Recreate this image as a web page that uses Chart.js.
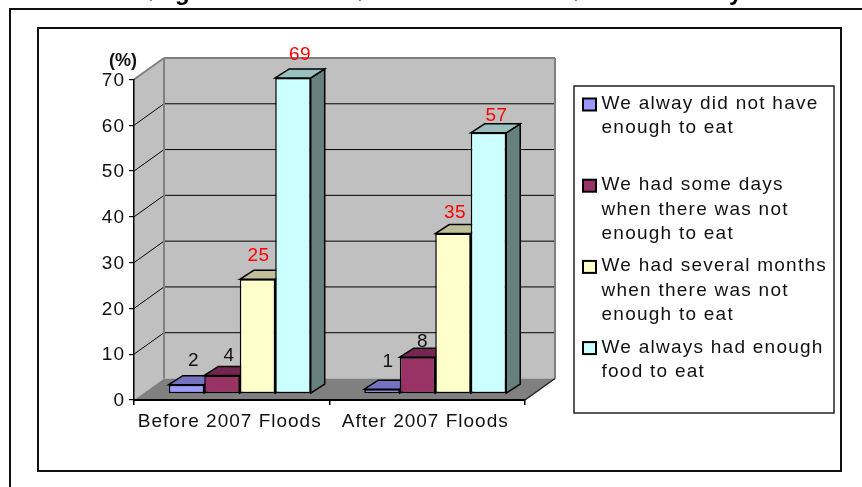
<!DOCTYPE html>
<html>
<head>
<meta charset="utf-8">
<style>
  html, body { margin: 0; padding: 0; background: #fff; }
  canvas { display: block; }
</style>
<script src="https://cdn.jsdelivr.net/npm/chart.js@4/dist/chart.umd.min.js"></script>
</head>
<body>
<canvas id="chart" width="862" height="487"></canvas>
<script>
// Food sufficiency before and after the 2007 floods, share of households (%)
const categories = ['Before 2007 Floods', 'After 2007 Floods'];
const alwaysShort = [2, 1];
const someDays = [4, 8];
const severalMonths = [25, 35];
const alwaysEnough = [69, 57];
const yTicks = [0, 10, 20, 30, 40, 50, 60, 70];

const seriesNames = [
  ['We alway did not have', 'enough to eat'],
  ['We had some days', 'when there was not', 'enough to eat'],
  ['We had several months', 'when there was not', 'enough to eat'],
  ['We always had enough', 'food to eat']
];
const seriesColors = ['#9999FF', '#993366', '#FFFFCC', '#CCFFFF'];
const topColors = ['#7373BF', '#732650', '#BFBF99', '#99BFBF'];
const sideColors = ['#4C4C80', '#4C1933', '#808066', '#668080'];
const labelColors = [['#111', '#111'], ['#111', '#111'], ['#FF0000', '#FF0000'], ['#FF0000', '#FF0000']];
// Hand placement of each value label relative to the bar's rear top corner
const labelNudge = [
  [[7, -15], [6, -18]],
  [[7, -11], [5, -6]],
  [[1, -15], [2, -12]],
  [[7, -14], [8, -8]]
];

// Oblique projection used for the fake 3D box
const WALL_DX = 30, WALL_DY = -21.5;
const BAR_DX = 8, BAR_DY = -6.2;
const DEPTH_DX = 14, DEPTH_DY = -9;

const FONT = '"Liberation Sans", Arial, sans-serif';
const TEXT_SIZE = 19;

function poly(ctx, pts, fill, stroke, lw) {
  ctx.beginPath();
  pts.forEach((p, i) => i ? ctx.lineTo(p[0], p[1]) : ctx.moveTo(p[0], p[1]));
  ctx.closePath();
  if (fill) { ctx.fillStyle = fill; ctx.fill(); }
  if (stroke) { ctx.strokeStyle = stroke; ctx.lineWidth = lw; ctx.stroke(); }
}

function line(ctx, x1, y1, x2, y2, color, lw) {
  ctx.beginPath();
  ctx.moveTo(x1, y1);
  ctx.lineTo(x2, y2);
  ctx.strokeStyle = color;
  ctx.lineWidth = lw;
  ctx.stroke();
}

function drawFrames(ctx) {
  ctx.strokeStyle = '#111';
  ctx.lineWidth = 2;
  ctx.strokeRect(10, 9, 900, 600);
  ctx.strokeRect(38, 28, 803, 443);
}

// Bits of the page heading that hang down over the top edge
const headingScraps = [[148, ','], [175, 'g'], [357, ','], [573, ','], [729, 'y']];
function drawHeading(ctx) {
  ctx.save();
  ctx.font = 'bold 24px ' + FONT;
  ctx.fillStyle = '#000';
  ctx.textAlign = 'left';
  ctx.textBaseline = 'alphabetic';
  headingScraps.forEach(([x, s]) => ctx.fillText(s, x, s === ',' ? -3 : 0));
  ctx.restore();
}

function drawBox(chart) {
  const { ctx, scales: { x, y } } = chart;
  const left = x.left, right = x.right;
  const base = y.getPixelForValue(0), top = y.getPixelForValue(70);
  // side wall, back wall, floor
  poly(ctx, [[left, base], [left + WALL_DX, base + WALL_DY], [left + WALL_DX, top + WALL_DY], [left, top]], '#C0C0C0');
  poly(ctx, [[left + WALL_DX, base + WALL_DY], [right + WALL_DX, base + WALL_DY], [right + WALL_DX, top + WALL_DY], [left + WALL_DX, top + WALL_DY]], '#C0C0C0');
  yTicks.forEach(v => {
    if (v === 0 || v === 70) return;
    const py = y.getPixelForValue(v);
    line(ctx, left, py, left + WALL_DX, py + WALL_DY, '#000', 1);
    line(ctx, left + WALL_DX, py + WALL_DY, right + WALL_DX, py + WALL_DY, '#000', 1);
  });
  poly(ctx, [[left, base], [left + WALL_DX, base + WALL_DY], [right + WALL_DX, base + WALL_DY], [right, base]], '#808080');
  line(ctx, left + WALL_DX, top + WALL_DY, right + WALL_DX, top + WALL_DY, '#808080', 2);
  line(ctx, left + WALL_DX, top + WALL_DY, left + WALL_DX, base + WALL_DY, '#808080', 2);
  line(ctx, right + WALL_DX, top + WALL_DY, right + WALL_DX, base + WALL_DY, '#808080', 2);
  line(ctx, left, top, left + WALL_DX, top + WALL_DY, '#808080', 2);
  line(ctx, right, base, right + WALL_DX, base + WALL_DY, '#222', 1.5);
}

function drawLegend(ctx) {
  ctx.save();
  ctx.fillStyle = '#fff';
  ctx.fillRect(574, 86, 260, 327);
  ctx.strokeStyle = '#222';
  ctx.lineWidth = 1.5;
  ctx.strokeRect(574, 86, 260, 327);
  ctx.font = TEXT_SIZE + 'px ' + FONT;
  ctx.letterSpacing = '1.25px';
  ctx.textAlign = 'left';
  ctx.textBaseline = 'alphabetic';
  seriesNames.forEach((lines, i) => {
    const baseline = 109 + i * 81.2;
    ctx.fillStyle = seriesColors[i];
    ctx.strokeStyle = '#000';
    ctx.lineWidth = 2;
    ctx.fillRect(583, baseline - 10.5, 13, 12);
    ctx.strokeRect(583, baseline - 10.5, 13, 12);
    ctx.fillStyle = '#111';
    lines.forEach((t, j) => ctx.fillText(t, 601.5, baseline + j * 24.4));
  });
  ctx.restore();
}

const boxPlugin = {
  id: 'box3d',
  beforeDraw(chart) {
    const ctx = chart.ctx;
    ctx.letterSpacing = '1px';
    drawFrames(ctx);
    drawHeading(ctx);
    drawBox(chart);
    drawLegend(ctx);
    ctx.save();
    ctx.font = 'bold 18px ' + FONT;
    ctx.letterSpacing = '0px';
    ctx.fillStyle = '#111';
    ctx.textAlign = 'left';
    ctx.fillText('(%)', 109, 66);
    ctx.restore();
  },
  beforeDatasetsDraw(chart) {
    const ctx = chart.ctx;
    ctx.save();
    ctx.translate(BAR_DX, BAR_DY);
    // Tops and sides go first so the front faces cover the hidden parts
    chart.data.datasets.forEach((ds, i) => {
      chart.getDatasetMeta(i).data.forEach(bar => {
        const { x, y, base, width } = bar.getProps(['x', 'y', 'base', 'width'], true);
        const l = x - width / 2, r = x + width / 2;
        poly(ctx, [[r, y], [r + DEPTH_DX, y + DEPTH_DY], [r + DEPTH_DX, base + DEPTH_DY], [r, base]], sideColors[i], '#000', 1.5);
        poly(ctx, [[l, y], [l + DEPTH_DX, y + DEPTH_DY], [r + DEPTH_DX, y + DEPTH_DY], [r, y]], topColors[i], '#000', 1.5);
      });
    });
  },
  afterDatasetsDraw(chart) {
    const ctx = chart.ctx;
    ctx.restore();
    ctx.save();
    ctx.font = TEXT_SIZE + 'px ' + FONT;
    ctx.letterSpacing = '0.5px';
    ctx.textAlign = 'center';
    ctx.textBaseline = 'middle';
    chart.data.datasets.forEach((ds, i) => {
      chart.getDatasetMeta(i).data.forEach((bar, j) => {
        const { x, y } = bar.getProps(['x', 'y'], true);
        const [nx, ny] = labelNudge[i][j];
        ctx.fillStyle = labelColors[i][j];
        ctx.fillText(String(ds.data[j]), x + BAR_DX + nx, y + BAR_DY + DEPTH_DY + ny);
      });
    });
    ctx.restore();
  }
};

const values = [alwaysShort, someDays, severalMonths, alwaysEnough];

new Chart(document.getElementById('chart'), {
  type: 'bar',
  data: {
    labels: categories,
    datasets: values.map((data, i) => ({
      label: seriesNames[i].join(' '),
      data,
      backgroundColor: seriesColors[i],
      borderColor: '#000',
      borderWidth: 1.5,
      borderSkipped: false,
      clip: false
    }))
  },
  plugins: [boxPlugin],
  options: {
    responsive: false,
    animation: false,
    events: [],
    categoryPercentage: 0.726,
    barPercentage: 1,
    layout: { padding: { left: 0, top: 79.5, right: 337, bottom: 47 } },
    plugins: { legend: { display: false }, tooltip: { enabled: false }, title: { display: false } },
    scales: {
      x: {
        afterFit(s) { s.height = 40; },
        grid: { drawOnChartArea: false, color: '#000', lineWidth: 1.5, tickLength: 5 },
        border: { color: '#000', width: 2 },
        ticks: { autoSkip: false, maxRotation: 0, minRotation: 0, color: '#111', padding: 5, labelOffset: -2, font: { family: FONT, size: TEXT_SIZE } }
      },
      y: {
        min: 0,
        max: 70,
        afterFit(s) { s.width = 134; },
        afterBuildTicks(s) { s.ticks = yTicks.map(value => ({ value })); },
        grid: { drawOnChartArea: false, color: '#000', lineWidth: 1.2, tickLength: 5 },
        border: { color: '#000', width: 1.5 },
        ticks: { color: '#111', padding: 4, labelOffset: 1, font: { family: FONT, size: TEXT_SIZE } }
      }
    }
  }
});
</script>
</body>
</html>
